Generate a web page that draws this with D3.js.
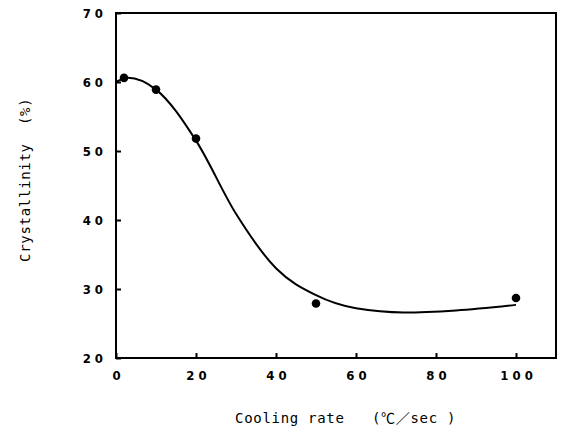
<!DOCTYPE html>
<html>
<head>
<meta charset="utf-8">
<script src="https://cdn.jsdelivr.net/npm/d3@7"></script>
<style>
  body { margin: 0; background: #fff; }
  svg { display: block; }
</style>
</head>
<body>
<div id="chart"></div>
<script>
// measured points
const rate = [2, 10, 20, 50, 100];
const crystallinity = [60.6, 58.9, 51.8, 27.9, 28.7];

// hand-drawn fit line
const fitRate = [0, 3, 10, 20, 30, 40, 50, 60, 72, 85, 100];
const fitCryst = [60.0, 60.6, 58.9, 51.5, 40.9, 33.0, 29.1, 27.2, 26.6, 26.9, 27.7];

const xTicks = [0, 20, 40, 60, 80, 100];
const yTicks = [20, 30, 40, 50, 60, 70];

const width = 562, height = 432;
const margin = {top: 13, right: 6, bottom: 74, left: 116};

const x = d3.scaleLinear().domain([0, 110]).range([margin.left, width - margin.right]);
const y = d3.scaleLinear().domain([20, 70]).range([height - margin.bottom, margin.top]);

const svg = d3.select("#chart").append("svg")
    .attr("width", width)
    .attr("height", height);

const spaced = d => String(d).split("").join(" ");
const tickFont = "'DejaVu Sans Condensed', 'Liberation Sans', sans-serif";

// y axis, ticks pointing inward
const gy = svg.append("g")
    .attr("transform", `translate(${margin.left},0)`)
    .call(d3.axisLeft(y).tickValues(yTicks).tickSize(-5).tickFormat(spaced));
gy.select(".domain").remove();
gy.selectAll("line").attr("stroke", "#000").attr("stroke-width", 2);
gy.selectAll("text")
    .attr("x", -13)
    .attr("font-family", tickFont)
    .attr("font-weight", "bold")
    .attr("font-size", 13)
    .attr("fill", "#000");

// x axis
const gx = svg.append("g")
    .attr("transform", `translate(0,${height - margin.bottom})`)
    .call(d3.axisBottom(x).tickValues(xTicks).tickSize(-5).tickFormat(spaced));
gx.select(".domain").remove();
gx.selectAll("line").attr("stroke", "#000").attr("stroke-width", 2);
gx.selectAll("text")
    .attr("y", 13)
    .attr("font-family", tickFont)
    .attr("font-weight", "bold")
    .attr("font-size", 13)
    .attr("fill", "#000");

// frame
svg.append("rect")
    .attr("x", x(0))
    .attr("y", y(70))
    .attr("width", x(110) - x(0))
    .attr("height", y(20) - y(70))
    .attr("fill", "none")
    .attr("stroke", "#000")
    .attr("stroke-width", 2);

// fitted curve
const fit = fitRate.map((r, i) => [r, fitCryst[i]]);
svg.append("path")
    .datum(fit)
    .attr("fill", "none")
    .attr("stroke", "#000")
    .attr("stroke-width", 2)
    .attr("d", d3.line().x(d => x(d[0])).y(d => y(d[1])).curve(d3.curveMonotoneX));

// data points
svg.selectAll("circle.pt")
    .data(rate.map((r, i) => [r, crystallinity[i]]))
    .join("circle")
    .attr("class", "pt")
    .attr("cx", d => x(d[0]))
    .attr("cy", d => y(d[1]))
    .attr("r", 4.3)
    .attr("fill", "#000");

// axis titles
svg.append("text")
    .attr("x", 235)
    .attr("y", 423)
    .attr("font-family", "'DejaVu Sans Mono', 'Noto Sans CJK JP', monospace")
    .attr("font-size", 14)
    .attr("letter-spacing", 0.7)
    .style("white-space", "pre")
    .text("Cooling rate   (℃／sec )");

svg.append("text")
    .attr("transform", "translate(30,262) rotate(-90)")
    .attr("font-family", "'DejaVu Sans Mono', monospace")
    .attr("font-size", 14)
    .attr("letter-spacing", 0.7)
    .style("white-space", "pre")
    .text("Crystallinity  (%)");
</script>
</body>
</html>
